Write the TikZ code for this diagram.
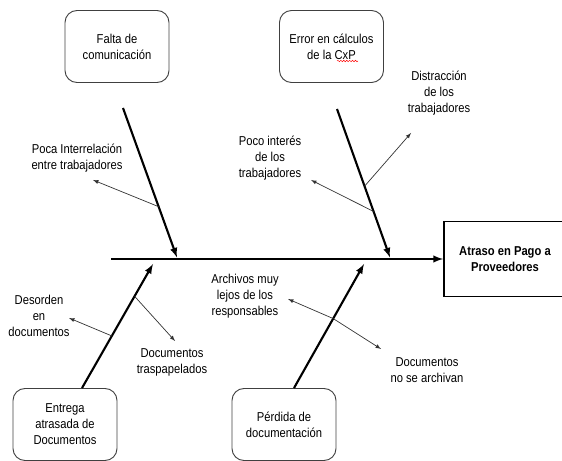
\documentclass[tikz,border=0pt]{standalone}
\usepackage{fontspec}
\setmainfont{Liberation Sans}[FakeStretch=0.87]
\usetikzlibrary{arrows,positioning,calc,decorations.pathmorphing}

\begin{document}
\begin{tikzpicture}[
    x=0.03cm, y=-0.03cm,
    >=latex,
    font=\fontsize{11}{13.6}\selectfont,
    cause/.style={rectangle, draw=black!75, line width=0.8pt, rounded corners=0.36cm, minimum width=3.12cm, minimum height=2.16cm, align=center},
    effect/.style={rectangle, draw, line width=1.6pt, minimum width=3.66cm, minimum height=2.25cm, align=center, font=\fontsize{11}{13.6}\selectfont\bfseries},
    bone/.style={->, line width=1.8pt},
    sub/.style={->, black!80, line width=0.6pt},
    note/.style={align=center, inner sep=0pt}
]
\useasboundingbox (0,0) rectangle (562,461);

% head and spine
\coordinate (tail) at (111,259);
\node[effect] (atraso) at (505,259) {Atraso en Pago a\\Proveedores};
\draw[bone] (tail) -- (atraso);

% causes
\node[cause] (falta) at (117,46.5) {Falta de\\comunicación};
\node[cause] (error) at (331.5,46.5) {Error en cálculos\\de la CxP};
\node[cause] (entrega) at (65,424.5) {Entrega\\atrasada de\\Documentos};
\node[cause] (perdida) at (284,424.5) {Pérdida de\\documentación};
\draw[red, line width=0.4pt, decorate, decoration={snake, amplitude=0.6pt, segment length=2.5pt}] (337,61) -- (358,61);

% bones
\coordinate (top1) at (123,108);
\coordinate (top2) at (337,109);
\coordinate (hit1) at (177,257.5);
\coordinate (hit2) at (390,257.5);
\coordinate (hit3) at (153,264);
\coordinate (hit4) at (364,264);

\draw[bone] (top1) -- (hit1) coordinate[pos=0.66] (s1);
\draw[bone] (top2) -- (hit2) coordinate[pos=0.52] (s2) coordinate[pos=0.69] (s3);
\draw[bone] ([xshift=0.51cm]entrega.north) -- (hit3) coordinate[pos=0.42] (s4) coordinate[pos=0.74] (s5);
\draw[bone] ([xshift=0.3cm]perdida.north) -- (hit4) coordinate[pos=0.56] (s6);

% sub causes
\node[note] (poca) at (77,158) {Poca Interrelación\\entre trabajadores};
\node[note] (interes) at (270,158) {Poco interés\\de los\\trabajadores};
\node[note] (distraccion) at (439,93) {Distracción\\de los\\trabajadores};
\node[note] (desorden) at (39,316) {Desorden\\en\\documentos};
\node[note] (traspapelados) at (172,362) {Documentos\\traspapelados};
\node[note] (archivos) at (245,296) {Archivos muy\\lejos de los\\responsables};
\node[note] (noarchivan) at (427,370) {Documentos\\no se archivan};

\coordinate (t1) at (93,180);
\coordinate (t2) at (411,133);
\coordinate (t3) at (311,180);
\coordinate (t4) at (69,318);
\coordinate (t5) at (175,341);
\coordinate (t6) at (288,299);
\coordinate (t7) at (381,349);

\draw[sub] (s1) -- (t1);
\draw[sub] (s2) -- (t2);
\draw[sub] (s3) -- (t3);
\draw[sub] (s4) -- (t4);
\draw[sub] (s5) -- (t5);
\draw[sub] (s6) -- (t6);
\draw[sub] (s6) -- (t7);

\end{tikzpicture}
\end{document}
